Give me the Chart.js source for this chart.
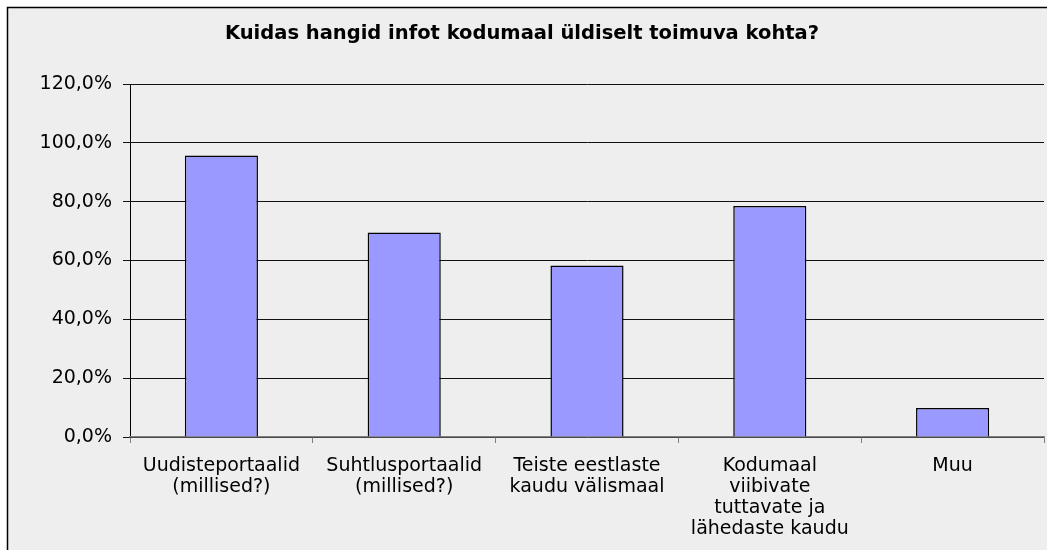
<!DOCTYPE html>
<html>
<head>
<meta charset="utf-8">
<script src="https://cdn.jsdelivr.net/npm/chart.js@4"></script>
<style>
  body { margin: 0; background: #fff; }
  #wrap { width: 1047px; height: 550px; }
</style>
</head>
<body>
<div id="wrap"><canvas id="myChart" width="1047" height="550"></canvas></div>
<script>
const categories = [
  ["Uudisteportaalid", "(millised?)"],
  ["Suhtlusportaalid", "(millised?)"],
  ["Teiste eestlaste", "kaudu välismaal"],
  ["Kodumaal", "viibivate", "tuttavate ja", "lähedaste kaudu"],
  ["Muu"]
];
const shares = [95.7, 69.5, 58.3, 78.5, 9.9];
const titleText = "Kuidas hangid infot kodumaal üldiselt toimuva kohta?";

// grey panel with a thin black frame behind everything
const panel = {
  id: "panel",
  beforeDraw(chart) {
    const c = chart.ctx;
    c.save();
    c.fillStyle = "#ffffff";
    c.fillRect(0, 0, chart.width, chart.height);
    c.fillStyle = "#eeeeee";
    c.fillRect(7, 7, chart.width, chart.height);
    c.strokeStyle = "#000";
    c.lineWidth = 1.5;
    c.strokeRect(7.5, 7.5, chart.width + 10, chart.height + 10);
    c.restore();
  }
};

function createChart() {
  const ctx = document.getElementById("myChart");
  new Chart(ctx, {
    type: "bar",
    data: {
      labels: categories,
      datasets: [{
        data: shares,
        backgroundColor: "#9999ff",
        borderColor: "#000",
        borderWidth: 1.5,
        categoryPercentage: 1,
        barPercentage: 0.4
      }]
    },
    options: {
      responsive: false,
      animation: false,
      layout: { padding: { left: 0, right: 3, top: 0, bottom: 0 } },
      plugins: {
        legend: { display: false },
        tooltip: { enabled: false },
        title: {
          display: true,
          text: titleText,
          color: "#000",
          font: { family: "DejaVu Sans", size: 19.5, weight: "bold", lineHeight: 1.2 },
          padding: { top: 22, bottom: 38.6 }
        }
      },
      scales: {
        y: {
          min: 0,
          max: 120,
          ticks: {
            stepSize: 20,
            color: "#000",
            padding: 11,
            font: { family: "DejaVu Sans", size: 19 },
            callback: v => v.toFixed(1).replace(".", ",") + "%"
          },
          grid: { color: "#111", lineWidth: 1, tickLength: 7 },
          border: { display: true, color: "#000", width: 1 },
          afterFit: s => { s.width = 130; }
        },
        x: {
          ticks: {
            color: "#000",
            padding: 13,
            maxRotation: 0,
            autoSkip: false,
            font: { family: "DejaVu Sans", size: 19, lineHeight: 1.1 }
          },
          grid: { drawOnChartArea: false, drawTicks: true, tickLength: 6, color: "#808080" },
          border: { display: true, color: "#808080", width: 1.5 },
          afterFit: s => { s.height = 113; }
        }
      }
    },
    plugins: [panel]
  });
}

createChart();
</script>
</body>
</html>
